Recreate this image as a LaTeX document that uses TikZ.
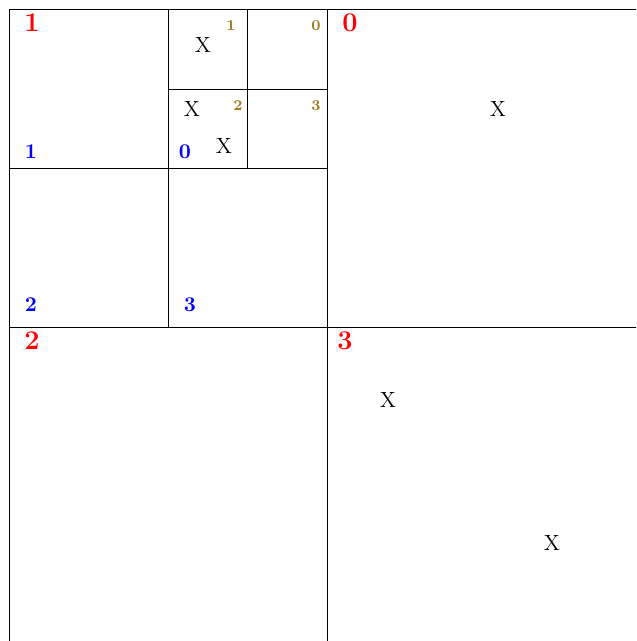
\documentclass[tikz,border=0pt]{standalone}
\usepackage{tikz}
\definecolor{lvlOne}{HTML}{FF0000}
\definecolor{lvlTwo}{HTML}{0000FF}
\definecolor{lvlThree}{HTML}{9E7A1F}
\tikzset{
  cellline/.style={draw=black, line width=.5pt},
  quadone/.style={text=lvlOne, font=\fontsize{13.5}{14}\selectfont\bfseries, inner sep=0pt},
  quadtwo/.style={text=lvlTwo, font=\fontsize{10.5}{11}\selectfont\bfseries, inner sep=0pt},
  quadthree/.style={text=lvlThree, font=\fontsize{7.5}{8}\selectfont\bfseries, inner sep=0pt},
  point/.style={font=\fontsize{11}{12}\selectfont, inner sep=0pt}
}
\begin{document}
\begin{tikzpicture}[x=.5pt,y=-.5pt]
\useasboundingbox (0,0) rectangle (636,641);
\clip (0,0) rectangle (636,641);

% ---------------------------------------------------------------------------
% Cell boundaries: root, first, second and third subdivision.
% ---------------------------------------------------------------------------
\draw[cellline] (9.5,9.5) rectangle (645.5,645.5);
\draw[cellline] (327.5,9.5) -- (327.5,645.5);
\draw[cellline] (9.5,327.5) -- (645.5,327.5);
\draw[cellline] (168.5,9.5) -- (168.5,327.5);
\draw[cellline] (9.5,168.5) -- (327.5,168.5);
\draw[cellline] (247.5,9.5) -- (247.5,168.5);
\draw[cellline] (168.5,89.5) -- (327.5,89.5);

% ---------------------------------------------------------------------------
% Quadrant indices per level.
% ---------------------------------------------------------------------------
\node[quadone] (qA) at (32,23) {1};
\node[quadone] (qB) at (350,23) {0};
\node[quadone] (qC) at (32,341) {2};
\node[quadone] (qD) at (345,341) {3};

\node[quadtwo] (rA) at (31,152) {1};
\node[quadtwo] (rB) at (185,152) {0};
\node[quadtwo] (rC) at (31,305) {2};
\node[quadtwo] (rD) at (190,305) {3};

\node[quadthree] (sA) at (231,26) {1};
\node[quadthree] (sB) at (316,26) {0};
\node[quadthree] (sC) at (238,106) {2};
\node[quadthree] (sD) at (316,106) {3};

% Stored points.
\node[point] (p1) at (203,45) {X};
\node[point] (p2) at (192,109) {X};
\node[point] (p3) at (224,146) {X};
\node[point] (p4) at (498,109) {X};
\node[point] (p5) at (388,400) {X};
\node[point] (p6) at (552,543) {X};

\end{tikzpicture}
\end{document}
